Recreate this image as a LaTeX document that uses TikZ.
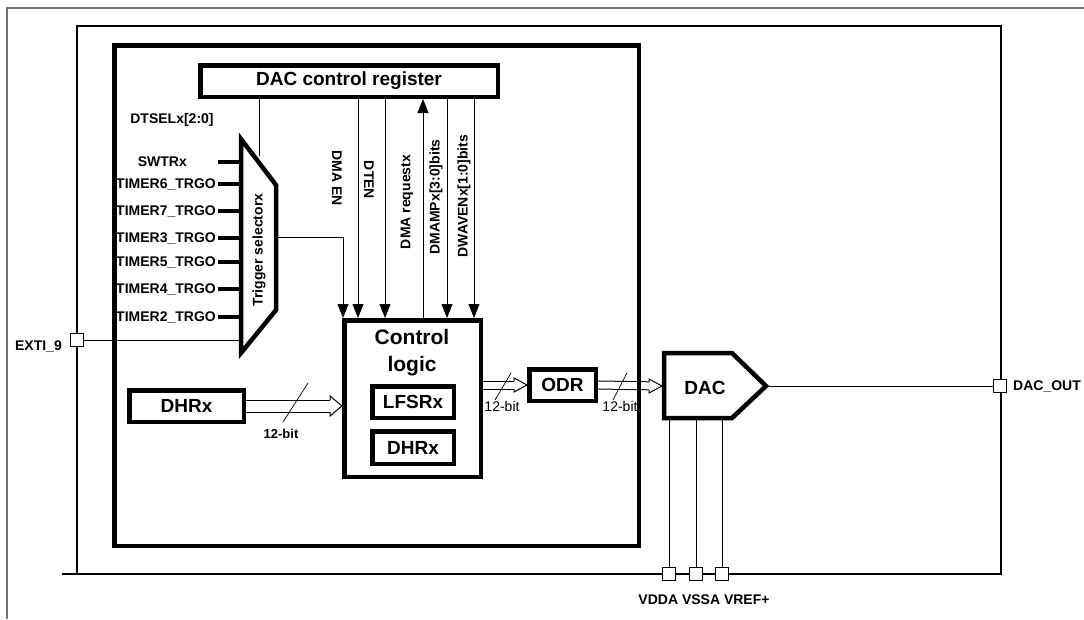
\documentclass[tikz,border=0pt]{standalone}
\usepackage{fontspec}
\setmainfont{Liberation Sans}
\usetikzlibrary{arrows.meta, positioning, calc}

% open head of a bus: tip, length, half height, half gap
\newcommand\bushead[4]{%
  \draw[line width=1pt, line join=miter] ($(#1)+(-#2,-#4)$) -- ++(0,#4-#3) -- (#1)
    -- ($(#1)+(-#2,#3)$) -- ++(0,-#3+#4);}

\begin{document}
\begin{tikzpicture}[
    x=1pt, y=-1pt,
    lbl/.style={font=\fontsize{14}{16}\selectfont\bfseries, inner sep=1pt},
    box/.style={draw, line width=4.5pt, inner sep=0pt,
                font=\fontsize{19}{22}\selectfont\bfseries},
    wire/.style={line width=1pt},
    arr/.style={-{Triangle[length=14pt, width=11pt]}},
    inp/.style={line width=4.5pt},
    bus/.style={double, double distance=7pt, line width=1pt, shorten >=13pt},
    widebus/.style={bus, double distance=11pt, shorten >=12pt},
    pin/.style={draw, fill=white, line width=1pt, minimum size=13pt, inner sep=0pt},
    frame/.style={line width=1.6pt}
]
    \useasboundingbox (0,0) rectangle (1084,619);

    % frames
    \draw[black!55, line width=1.5pt] (7,619) -- (7,8) -- (1084,8);
    \draw[frame] (62,574) -- (1001,574) -- (1001,26) -- (77,26) -- (77,574);

    % blocks
    \node[box, minimum width=297.5pt, minimum height=31.5pt] (reg) at (349,81) {DAC control register};
    \node[box, minimum width=136.5pt, minimum height=156.5pt] (ctrl) at (412.5,398.5) {};
    \node[font=\fontsize{21}{27}\selectfont\bfseries, align=center] (ctrltxt) at (412,353) {Control\\logic};
    \node[box, minimum width=81.5pt, minimum height=31.5pt] (lfsr) at (413,402) {LFSRx};
    \node[box, minimum width=81.5pt, minimum height=32.5pt] (dhrin) at (413,447.5) {DHRx};
    \node[box, minimum width=114.5pt, minimum height=31.5pt] (dhr) at (186.5,406) {DHRx};
    \node[box, minimum width=66.5pt, minimum height=31.5pt] (odr) at (562.5,385) {ODR};

    % trigger selector
    \coordinate (tsA) at (241,139);
    \coordinate (tsB) at (276,185);
    \coordinate (tsC) at (276,310);
    \coordinate (tsD) at (241,353);
    \draw[line width=4.5pt, line join=miter] (tsA) -- (tsB) -- (tsC) -- (tsD) -- cycle;
    \node[lbl, rotate=90] (trgtxt) at (259,250) {Trigger selectorx};
    \coordinate (selin) at (259,156);
    \coordinate (selout) at (278,237);

    % DAC
    \coordinate (dacin) at (662,386);
    \coordinate (dacout) at (766,386);
    \coordinate (dacbot) at (664,418);
    \draw[line width=4.5pt, line join=miter] (664,353) -- (732,353) -- (dacout) -- (732,418) -- (dacbot) -- cycle;
    \node[font=\fontsize{19}{22}\selectfont\bfseries] (dactxt) at (705,388) {DAC};

    % trigger inputs
    \foreach \y/\t/\r in {162/SWTRx/188, 184/TIMER6\_TRGO/217, 211/TIMER7\_TRGO/217,
                          238/TIMER3\_TRGO/217, 262/TIMER5\_TRGO/217,
                          289/TIMER4\_TRGO/217, 317/TIMER2\_TRGO/217} {
        \node[lbl, anchor=east] (in\y) at (\r,\y) {\t};
        \coordinate (stub\y) at (218,\y);
        \draw[inp] (stub\y) -- (stub\y -| tsA);
    }
    \node[lbl] (dtsel) at (172,120) {DTSELx[2:0]};

    % control signals
    \draw[wire] (reg.south -| selin) -- (selin);
    \draw[wire, arr] (selout) -| (343,0 |- ctrl.north);
    \draw[wire, arr] (358,0 |- reg.south) -- (358,0 |- ctrl.north);
    \draw[wire, arr] (385,0 |- reg.south) -- (385,0 |- ctrl.north);
    \draw[wire, arr] (423,0 |- ctrl.north) -- (423,0 |- reg.south);
    \draw[wire, arr] (447,0 |- reg.south) -- (447,0 |- ctrl.north);
    \draw[wire, arr] (474,0 |- reg.south) -- (474,0 |- ctrl.north);
    \node[lbl, rotate=-90] (dmaen) at (337,178) {DMA EN};
    \node[lbl, rotate=-90] (dten) at (369,180) {DTEN};
    \node[lbl, rotate=90] (dmareq) at (407,202) {DMA requestx};
    \node[lbl, rotate=90] (dmamp) at (436,197) {DMAMPx[3:0]bits};
    \node[lbl, rotate=90] (dwaven) at (464,196) {DWAVENx[1:0]bits};

    % data path
    \coordinate (ctrlin) at (dhr.east -| ctrl.west);
    \draw[widebus] (dhr.east) -- (ctrlin);
    \bushead{ctrlin}{12}{10}{6}
    \draw[wire, line width=0.7pt] (283,422) -- (308,383);
    \node[lbl, font=\fontsize{13}{15}\selectfont\bfseries] (bits1) at (281,434) {12-bit};
    \coordinate (ctrlout) at (ctrl.east |- odr.west);
    \draw[bus] (ctrlout) -- (odr.west);
    \bushead{odr.west}{13}{7}{4}
    \draw[wire, line width=0.7pt] (495,400) -- (511,373);
    \node[font=\fontsize{14}{16}\selectfont, inner sep=1pt] (bits2) at (502,406) {12-bit};
    \draw[bus] (odr.east) -- (dacin);
    \bushead{dacin}{13}{7}{4}
    \draw[wire, line width=0.7pt] (613,400) -- (627,373);
    \node[font=\fontsize{14}{16}\selectfont, inner sep=1pt] (bits3) at (620,406) {12-bit};

    % DAC block frame, over the bus
    \node[draw, line width=4.5pt, minimum width=524.5pt, minimum height=500.5pt,
          inner sep=0pt] (dacblk) at (376.5,295.5) {};

    % pins
    \node[pin] (pexti) at (77,340) {};
    \node[lbl, anchor=east] (exti) at (63,346) {EXTI\_9};
    \draw[wire] (pexti.east) -- (pexti.east -| tsA);
    \node[pin] (pout) at (1000,386) {};
    \node[lbl, anchor=west] (outlbl) at (1012,386) {DAC\_OUT};
    \draw[wire] (dacout) -- (pout.west);
    \node[pin] (pvdda) at (669,574) {};
    \node[pin] (pvssa) at (696,574) {};
    \node[pin] (pvref) at (722,574) {};
    \draw[wire] (pvdda.north |- dacbot) -- (pvdda.north);
    \draw[wire] (pvssa.north |- dacbot) -- (pvssa.north);
    \draw[wire] (pvref.north |- dacbot) -- (pvref.north);
    \node[lbl] (supply) at (704,600) {VDDA VSSA VREF+};
\end{tikzpicture}
\end{document}
